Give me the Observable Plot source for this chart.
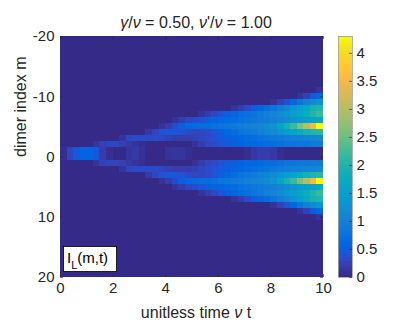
<!DOCTYPE html>
<html><head><meta charset="utf-8">
<script src="https://cdn.jsdelivr.net/npm/d3@7"></script>
<script src="https://cdn.jsdelivr.net/npm/@observablehq/plot@0.6"></script>
<style>
html,body{margin:0;padding:0;background:#fff;}
#wrap{position:relative;width:399px;height:322px;font-family:"Liberation Sans",Helvetica,Arial,sans-serif;}
#wrap svg{position:absolute;top:0;overflow:visible;}
</style></head><body><div id="wrap"></div>
<script>
// ---- data (t bins of 0.25 from 0 to 10) ----
const timeStep = 0.25;
const xTicks = [0, 2, 4, 6, 8, 10];
const yTicks = [-20, -10, 0, 10, 20];
const colorbarTicks = [0, 0.5, 1, 1.5, 2, 2.5, 3, 3.5, 4];
const colorMax = 4.3;

// central dimers (m = -1 and m = 0)
const rowCenter = [0.05,0.3,0.45,0.55,0.55,0.45,0.2,0.05, 0,0,0.12,0.15,0.08,0,0,0, 0.1,0.12,0.12,0.06,0,0,0,0, 0,0,0,0,0.05,0.15,0.2,0.2, 0.15,0.05,0,0,0,0,0,0];
// m = -2 and m = 1
const row2 = [0,0,0,0,0,0.1,0.25,0.3, 0.3,0.25,0.15,0.1,0.05,0,0,0, 0,0,0,0,0.1,0.2,0.3,0.35, 0.4,0.45,0.5,0.55,0.6,0.6,0.65,0.7, 0.7,0.75,0.8,0.8,0.85,0.85,0.9,0.9];
// m = -3 and m = 2
const row3 = [0,0,0,0,0,0,0,0, 0,0.1,0.3,0.35,0.35,0.35,0.35,0.3, 0.25,0.2,0.2,0.2,0.25,0.3,0.35,0.4, 0.45,0.5,0.55,0.6,0.65,0.7,0.75,0.8, 0.85,0.9,0.95,1.0,1.0,1.05,1.1,1.15];
// m = -4 and m = 3
const row4 = [0,0,0,0,0,0,0,0, 0,0,0,0,0,0.15,0.3,0.4, 0.45,0.45,0.4,0.35,0.3,0.3,0.35,0.4, 0.5,0.6,0.7,0.8,0.85,0.9,1.0,1.1, 1.2,1.3,1.45,1.6,1.75,1.9,2.0,2.1];
// m = -5 and m = 4
const row5 = [0,0,0,0,0,0,0,0, 0,0,0,0,0,0,0,0.1, 0.2,0.35,0.5,0.6,0.65,0.7,0.7,0.75, 0.8,0.85,0.9,0.95,1.0,1.05,1.1,1.2, 1.3,1.6,1.9,2.2,2.6,3.0,3.5,4.3];
// m = -6 and m = 5
const row6 = [0,0,0,0,0,0,0,0, 0,0,0,0,0,0,0,0, 0,0.1,0.2,0.3,0.35,0.4,0.5,0.55, 0.6,0.65,0.7,0.75,0.8,0.85,0.9,0.95, 1.0,1.1,1.2,1.3,1.4,1.5,1.6,1.7];
// m = -7 and m = 6
const row7 = [0,0,0,0,0,0,0,0, 0,0,0,0,0,0,0,0, 0,0,0,0,0,0.1,0.2,0.3, 0.4,0.5,0.6,0.7,0.75,0.8,0.9,1.0, 1.1,1.2,1.35,1.5,1.65,1.8,2.0,2.2];
// m = -8 and m = 7
const row8 = [0,0,0,0,0,0,0,0, 0,0,0,0,0,0,0,0, 0,0,0,0,0,0,0,0, 0,0,0.1,0.2,0.35,0.5,0.6,0.7, 0.8,0.95,1.1,1.3,1.5,1.7,1.9,2.0];
// m = -9 and m = 8
const row9 = [0,0,0,0,0,0,0,0, 0,0,0,0,0,0,0,0, 0,0,0,0,0,0,0,0, 0,0,0,0,0,0,0,0, 0.1,0.25,0.4,0.6,0.8,1.0,1.15,1.3];
// m = -10 and m = 9
const row10 = [0,0,0,0,0,0,0,0, 0,0,0,0,0,0,0,0, 0,0,0,0,0,0,0,0, 0,0,0,0,0,0,0,0, 0,0,0,0,0.1,0.25,0.45,0.6];
// m = -11 and m = 10
const row11 = [0,0,0,0,0,0,0,0, 0,0,0,0,0,0,0,0, 0,0,0,0,0,0,0,0, 0,0,0,0,0,0,0,0, 0,0,0,0,0,0,0,0.1];

const dimerIndex = [-11,-10,-9,-8,-7,-6,-5,-4,-3,-2,-1,0,1,2,3,4,5,6,7,8,9,10];
const dimerProfiles = [row11,row10,row9,row8,row7,row6,row5,row4,row3,row2,rowCenter,rowCenter,row2,row3,row4,row5,row6,row7,row8,row9,row10,row11];

// MATLAB parula colormap (style)
const parula = [[0.2081,0.1663,0.5292],[0.2116,0.1898,0.5777],[0.2123,0.2138,0.6270],[0.2081,0.2386,0.6771],[0.1959,0.2645,0.7279],[0.1707,0.2919,0.7792],[0.1253,0.3242,0.8303],[0.0591,0.3598,0.8683],[0.0117,0.3875,0.8820],[0.0060,0.4086,0.8828],[0.0165,0.4266,0.8786],[0.0329,0.4430,0.8720],[0.0498,0.4586,0.8641],[0.0629,0.4737,0.8554],[0.0723,0.4887,0.8467],[0.0779,0.5040,0.8384],[0.0793,0.5200,0.8312],[0.0749,0.5375,0.8263],[0.0641,0.5570,0.8240],[0.0488,0.5772,0.8228],[0.0343,0.5966,0.8199],[0.0265,0.6137,0.8135],[0.0239,0.6287,0.8038],[0.0231,0.6418,0.7913],[0.0228,0.6535,0.7768],[0.0267,0.6642,0.7607],[0.0384,0.6743,0.7436],[0.0590,0.6838,0.7254],[0.0843,0.6928,0.7062],[0.1133,0.7015,0.6859],[0.1453,0.7098,0.6646],[0.1801,0.7177,0.6424],[0.2178,0.7250,0.6193],[0.2586,0.7317,0.5954],[0.3022,0.7376,0.5712],[0.3482,0.7424,0.5473],[0.3953,0.7459,0.5244],[0.4420,0.7481,0.5033],[0.4871,0.7491,0.4840],[0.5300,0.7491,0.4661],[0.5709,0.7485,0.4494],[0.6099,0.7473,0.4337],[0.6473,0.7456,0.4188],[0.6834,0.7435,0.4044],[0.7184,0.7411,0.3905],[0.7525,0.7384,0.3768],[0.7858,0.7356,0.3633],[0.8185,0.7327,0.3498],[0.8507,0.7299,0.3360],[0.8824,0.7274,0.3217],[0.9139,0.7258,0.3063],[0.9450,0.7261,0.2886],[0.9739,0.7314,0.2666],[0.9938,0.7455,0.2403],[0.9990,0.7653,0.2164],[0.9955,0.7861,0.1967],[0.9880,0.8066,0.1794],[0.9789,0.8271,0.1633],[0.9697,0.8481,0.1475],[0.9626,0.8705,0.1309],[0.9589,0.8949,0.1132],[0.9598,0.9218,0.0948],[0.9661,0.9514,0.0755],[0.9763,0.9831,0.0538]];
const parulaInterp = d3.piecewise(d3.interpolateRgb, parula.map(c => d3.rgb(c[0]*255, c[1]*255, c[2]*255).toString()));

// ---- build cell table ----
const profileByM = new Map(dimerIndex.map((m, i) => [m, dimerProfiles[i]]));
const nBins = rowCenter.length;
const cells = [];
for (let m = -20; m <= 20; m++) {
  const prof = profileByM.get(m);
  for (let j = 0; j < nBins; j++) {
    cells.push({t1: j * timeStep, t2: (j + 1) * timeStep, m, v: prof ? prof[j] : 0});
  }
}

const font = '"Liberation Sans",Helvetica,Arial,sans-serif';
const ink = "#262626";
const colorOpts = {type: "linear", domain: [0, colorMax], interpolate: () => parulaInterp, clamp: true};

const W = 399, H = 322, mL = 60, mR = 76, mT = 36, mB = 45;
const frameW = W - mL - mR, frameH = H - mT - mB;

const main = Plot.plot({
  width: W, height: H, marginLeft: mL, marginRight: mR, marginTop: mT, marginBottom: mB,
  style: {fontFamily: font, fontSize: "15px", color: ink, background: "transparent"},
  x: {domain: [0, 10]},
  y: {domain: [-20, 20], reverse: true},
  color: colorOpts,
  marks: [
    Plot.rect(cells, {x1: "t1", x2: "t2", y1: d => d.m - 0.5, y2: d => d.m + 0.5, fill: "v", clip: true, shapeRendering: "crispEdges"}),
    Plot.tickX(xTicks, {x: d => d, insetTop: frameH - 3, stroke: ink, strokeWidth: 0.6}),
    Plot.tickX(xTicks, {x: d => d, insetBottom: frameH - 3, stroke: ink, strokeWidth: 0.6}),
    Plot.tickY(yTicks, {y: d => d, insetLeft: frameW - 3, stroke: ink, strokeWidth: 0.6}),
    Plot.tickY(yTicks, {y: d => d, insetRight: frameW - 3, stroke: ink, strokeWidth: 0.6}),
    Plot.axisX({ticks: xTicks, tickSize: 0, tickPadding: 5, label: null, tickFormat: d => String(d)}),
    Plot.axisY({ticks: yTicks, tickSize: 0, tickPadding: 6, label: null, tickFormat: d => String(d)}),
    Plot.text(["dimer index m"], {frameAnchor: "left", rotate: -90, dx: -40, fontSize: 16, fill: ink})
  ]
});

const wrap = document.getElementById("wrap");
main.style.left = "0px";
wrap.appendChild(main);

const svg = d3.select(main);
// title
const title = svg.append("text").attr("x", 196).attr("y", 28).attr("text-anchor", "middle")
  .attr("font-size", 16).attr("fill", ink).attr("font-family", font);
title.append("tspan").attr("font-style", "italic").text("γ");
title.append("tspan").text("/");
title.append("tspan").attr("font-style", "italic").text("ν");
title.append("tspan").text(" = 0.50, ");
title.append("tspan").attr("font-style", "italic").text("ν");
title.append("tspan").text("'/");
title.append("tspan").attr("font-style", "italic").text("ν");
title.append("tspan").text(" = 1.00");
// x label
const xl = svg.append("text").attr("x", 196).attr("y", 318).attr("text-anchor", "middle")
  .attr("font-size", 16).attr("fill", ink).attr("font-family", font);
xl.append("tspan").text("unitless time ");
xl.append("tspan").attr("font-style", "italic").text("ν");
xl.append("tspan").text(" t");
// I_L(m,t) annotation box
const g = svg.append("g");
g.append("rect").attr("x", mL + 3.5).attr("y", mT + frameH - 30.5).attr("width", 53).attr("height", 25)
  .attr("fill", "#fff").attr("stroke", "#000").attr("stroke-width", 0.8);
const lt = g.append("text").attr("x", mL + 7).attr("y", mT + frameH - 14).attr("font-size", 15)
  .attr("text-anchor", "start").attr("fill", "#000").attr("font-family", font);
lt.append("tspan").text("I");
lt.append("tspan").attr("font-size", 11).attr("dy", 6).text("L");
lt.append("tspan").attr("dy", -6).text("(m,t)");

// ---- colorbar ----
const rampN = 215;
const ramp = d3.range(rampN).map(i => ({v0: i * colorMax / rampN, v1: (i + 1) * colorMax / rampN}));
const bar = Plot.plot({
  width: 61, height: H, marginLeft: 0, marginRight: 47, marginTop: mT, marginBottom: mB,
  style: {fontFamily: font, fontSize: "15px", color: ink, background: "transparent"},
  y: {domain: [0, colorMax]},
  color: colorOpts,
  marks: [
    Plot.rect(ramp, {y1: "v0", y2: "v1", fill: d => (d.v0 + d.v1) / 2, shapeRendering: "crispEdges"}),
    Plot.frame({stroke: "#a0a0a0", strokeWidth: 0.8}),
    Plot.tickY(colorbarTicks, {y: d => d, insetLeft: 11, stroke: ink, strokeWidth: 0.6}),
    Plot.axisY({anchor: "right", ticks: colorbarTicks, tickSize: 0, tickPadding: 4, label: null, tickFormat: d => String(d)})
  ]
});
bar.style.left = "338px";
wrap.appendChild(bar);
</script>
</body></html>
